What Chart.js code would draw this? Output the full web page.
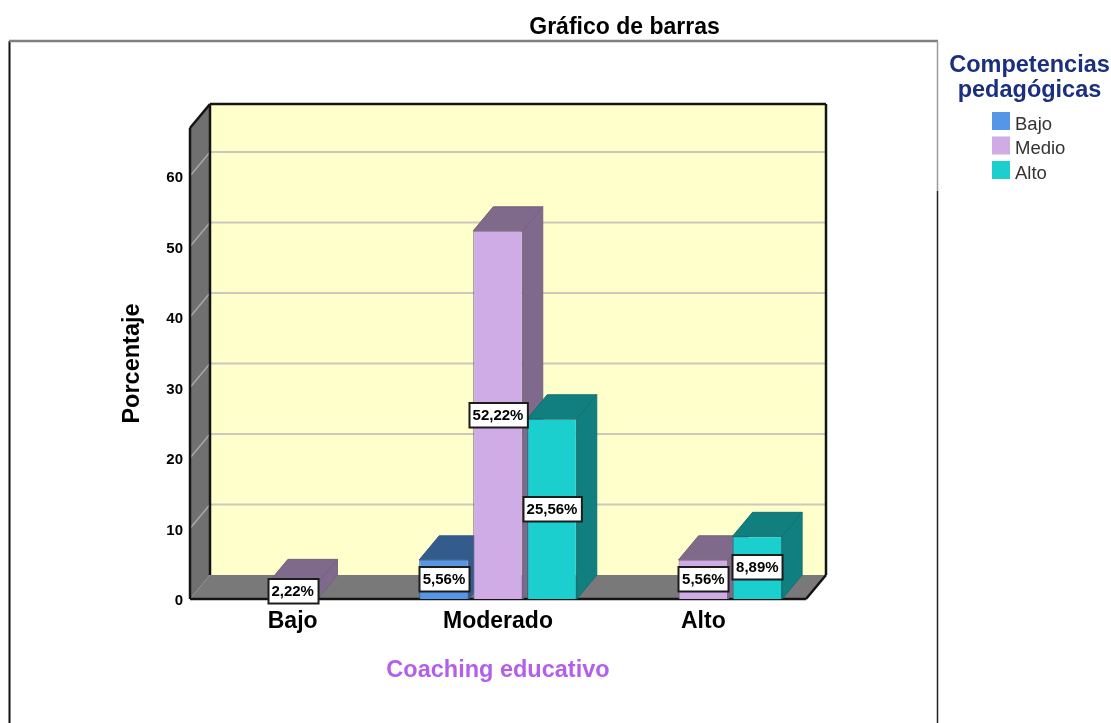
<!DOCTYPE html>
<html><head><meta charset="utf-8">
<style>html,body{margin:0;padding:0;background:#fff;overflow:hidden}canvas{display:block}</style>
<script src="https://cdn.jsdelivr.net/npm/chart.js@4"></script>
</head><body><canvas id="c" width="1111" height="723"></canvas>
<script>
const categories = ["Bajo", "Moderado", "Alto"];
const serieBajo  = [null, 5.56, null];
const serieMedio = [2.22, 52.22, 5.56];
const serieAlto  = [null, 25.56, 8.89];
const seriesNames = ["Bajo", "Medio", "Alto"];
const yTickStep = 10;
const yMax = 66.8;
const chartTitle = "Gráfico de barras";
const xTitle = "Coaching educativo";
const yTitle = "Porcentaje";
const legendTitle = ["Competencias", "pedagógicas"];

const frontColors = ["#5596E6", "#CFACE6", "#1CCFCF"];
const sideColors  = ["#335B8C", "#7F6A8C", "#117F7F"];
const edgeColors  = ["#2F5A8A", "#75617F", "#107070"];
const DX = 20, DY = -24;
const FONT = '"Liberation Sans", Arial, sans-serif';

function poly(ctx, pts, fill, stroke, lw) {
  ctx.beginPath();
  pts.forEach((p, i) => i ? ctx.lineTo(p[0], p[1]) : ctx.moveTo(p[0], p[1]));
  ctx.closePath();
  if (fill) { ctx.fillStyle = fill; ctx.fill(); }
  if (stroke) { ctx.strokeStyle = stroke; ctx.lineWidth = lw || 1; ctx.stroke(); }
}
function line(ctx, x1, y1, x2, y2, color, lw) {
  ctx.beginPath(); ctx.moveTo(x1, y1); ctx.lineTo(x2, y2);
  ctx.strokeStyle = color; ctx.lineWidth = lw; ctx.stroke();
}

const panel3d = {
  id: "panel3d",
  beforeDraw(chart) {
    const c = chart.ctx;
    c.save();
    c.fillStyle = "#fff"; c.fillRect(0, 0, chart.width, chart.height);
    line(c, 9.5, 41, 9.5, 723, "#111", 2);
    line(c, 9, 41, 938, 41, "#808080", 2.5);
    line(c, 937.5, 41, 937.5, 191, "#9a9a9a", 1.5);
    line(c, 937.5, 191, 937.5, 723, "#222", 1.5);
    c.fillStyle = "#000"; c.font = "bold 23px " + FONT;
    c.textAlign = "center"; c.textBaseline = "middle";
    c.fillText(chartTitle, 624.5, 27.5);
    c.fillStyle = "#1B2F7F"; c.font = "bold 23.5px " + FONT;
    legendTitle.forEach((t, i) => c.fillText(t, 1029.5, 65.5 + i * 25));
    c.font = "18.5px " + FONT; c.textAlign = "left";
    chart.data.datasets.forEach((d, i) => {
      const y = 112 + i * 24.5;
      c.fillStyle = d.backgroundColor;
      c.fillRect(992, y, 18, 18);
      c.fillStyle = "#333";
      c.fillText(d.label, 1015, y + 12.5);
    });
    c.restore();
  },
  beforeDatasetsDraw(chart) {
    const c = chart.ctx, a = chart.chartArea, y = chart.scales.y;
    const L = a.left, R = a.right, T = a.top, B = a.bottom;
    c.save();
    poly(c, [[L + DX, T + DY], [R + DX, T + DY], [R + DX, B + DY], [L + DX, B + DY]], "#FFFFCC");
    poly(c, [[L, T], [L + DX, T + DY], [L + DX, B + DY], [L, B]], "#707070");
    poly(c, [[L, B], [L + DX, B + DY], [R + DX, B + DY], [R, B]], "#797979");
    y.ticks.forEach(t => {
      if (t.value === 0) return;
      const py = y.getPixelForValue(t.value);
      line(c, L + DX, py + DY, R + DX, py + DY, "#C9C9BE", 2);
      line(c, L, py, L + DX, py + DY, "#A8A8A8", 1.5);
    });
    const ink = "#141414";
    line(c, L + DX, T + DY, R + DX, T + DY, ink, 2.5);
    line(c, R + DX, T + DY, R + DX, B + DY, ink, 2.5);
    line(c, L + DX, T + DY, L + DX, B + DY, ink, 2.5);
    line(c, L, T, L + DX, T + DY, ink, 2.5);
    line(c, L, T, L, B, ink, 2.5);
    line(c, L, B, R, B, ink, 2.5);
    line(c, R, B, R + DX, B + DY, ink, 2.5);

    for (let i = 0; i < categories.length; i++) {
      chart.data.datasets.forEach((d, k) => {
        if (d.data[i] == null) return;
        const el = chart.getDatasetMeta(k).data[i];
        const l = el.x - el.width / 2, r = el.x + el.width / 2, t = el.y, b = el.base;
        poly(c, [[r, b], [r + DX, b + DY], [r + DX, t + DY], [r, t]], sideColors[k], edgeColors[k], 1);
        poly(c, [[l, t], [l + DX, t + DY], [r + DX, t + DY], [r, t]], sideColors[k], edgeColors[k], 1);
      });
    }
    c.restore();
  },
  afterDatasetsDraw(chart) {
    const c = chart.ctx;
    c.save();
    c.font = "bold 15px " + FONT; c.textAlign = "center"; c.textBaseline = "middle";
    chart.data.datasets.forEach((d, k) => {
      d.data.forEach((v, i) => {
        if (v == null) return;
        const el = chart.getDatasetMeta(k).data[i];
        const txt = v.toFixed(2).replace(".", ",") + "%";
        const w = c.measureText(txt).width + 7.5, h = 24.5;
        const cy = (el.y + el.base) / 2;
        const x0 = Math.round(el.x - w / 2) + 0.5, y0 = Math.round(cy - h / 2);
        c.fillStyle = "#fff"; c.fillRect(x0, y0, w, h);
        c.strokeStyle = "#1c1c1c"; c.lineWidth = 2; c.strokeRect(x0, y0, w, h);
        c.fillStyle = "#000"; c.fillText(txt, el.x, y0 + h / 2 + 1);
      });
    });
    c.restore();
  }
};

const seriesData = [serieBajo, serieMedio, serieAlto];
new Chart(document.getElementById("c"), {
  type: "bar",
  data: {
    labels: categories,
    datasets: seriesNames.map((n, i) => ({
      label: n, data: seriesData[i],
      backgroundColor: frontColors[i], borderColor: edgeColors[i], borderWidth: 1,
      categoryPercentage: 0.789, barPercentage: 0.917
    }))
  },
  plugins: [panel3d],
  options: {
    responsive: false, animation: false, devicePixelRatio: 1,
    layout: { padding: { left: 115, right: 305, top: 128, bottom: 38 } },
    plugins: { legend: { display: false }, title: { display: false }, tooltip: { enabled: false } },
    scales: {
      x: {
        grid: { display: false, drawTicks: false }, border: { display: false },
        ticks: { color: "#000", font: { family: FONT, size: 23, weight: "bold" }, padding: 9, maxRotation: 0 },
        title: { display: true, text: xTitle, color: "#B45FEB", padding: 0, font: { family: FONT, size: 23.5, weight: "bold" } },
        afterFit(s) { s.height = 86; }
      },
      y: {
        min: 0, max: yMax,
        grid: { display: false, drawTicks: false }, border: { display: false },
        ticks: { stepSize: yTickStep, includeBounds: false, color: "#000", padding: 7, labelOffset: 2, font: { family: FONT, size: 15, weight: "bold" } },
        title: { display: true, text: yTitle, color: "#000", padding: 3, font: { family: FONT, size: 23.5, weight: "bold" } },
        afterFit(s) { s.width = 75; }
      }
    }
  }
});
</script></body></html>
